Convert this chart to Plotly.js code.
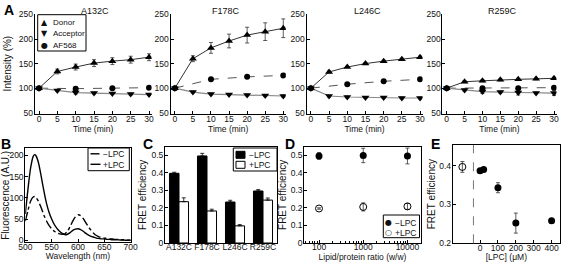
<!DOCTYPE html>
<html>
<head>
<meta charset="utf-8">
<script src="https://cdn.plot.ly/plotly-3.0.1.min.js"></script>
<style>html,body{margin:0;padding:0;background:#fff;}#chart{width:561px;height:262px;}</style>
</head>
<body>
<div id="chart"></div>
<script>
// ---------- DATA ----------
const mutants = ['A132C', 'F178C', 'L246C', 'R259C'];
const timeMin = [0, 5, 10, 15, 20, 25, 30];
const afTime = [0, 10, 20, 30];

// Panel A (per mutant, order as in `mutants`)
const donorValues = [
  [100, 134, 143, 151, 155, 158, 163],
  [100, 160, 182, 196, 208, 215, 222],
  [100, 133, 143, 150, 155, 159, 163],
  [100, 113, 115, 117, 118, 119, 120]
];
const donorErr = [
  [0, 5, 6, 7, 7, 7, 7],
  [0, 6, 11, 14, 16, 18, 19],
  [0, 2, 1, 2, 2, 2, 2],
  [0, 2, 2, 2, 2, 2, 2]
];
const acceptorValues = [
  [100, 95, 91, 90, 89, 88, 87],
  [100, 92, 88, 87, 86, 85, 84],
  [100, 84, 82, 81, 81, 80, 80],
  [100, 96, 93, 92, 91, 90, 90]
];
const acceptorErr = [
  [0, 2, 3, 2, 2, 2, 2],
  [0, 2, 2, 2, 2, 2, 2],
  [0, 2, 2, 2, 2, 2, 2],
  [0, 2, 4, 2, 5, 2, 5]
];
const af568Values = [
  [100, 99, 100, 101],
  [100, 118, 123, 126],
  [100, 108, 114, 118],
  [100, 100, 100, 101]
];
const af568Err = [
  [0, 3, 1, 1],
  [0, 1, 1, 1],
  [0, 1, 1, 1],
  [0, 2, 2, 1]
];

// Panel B (spectra)
const wavelength = [500,505,510,515,518,520,525,530,535,540,545,550,555,560,565,570,575,580,585,590,595,600,605,610,615,620,625,630,635,640,645,650,655,660,665,670,675,680,685,690,695,700];
const specMinusLPC = [45,70,92,102,103,101,92,77,60,46,35,27,21,17,15,14,15,21,32,45,55,60,58,51,41,31,23,16,11,8,6,5,4,3,3,2,2,1,1,1,0,0];
const specPlusLPC  = [62,120,170,198,202,200,183,152,118,88,66,50,37,28,21,16,13,14,18,23,26,27,25,21,16,12,9,7,5,4,3,3,2,2,1,1,1,0.5,0.5,0,0,0];

// Panel C (FRET efficiency per mutant)
const fretMinusLPC = [0.398, 0.497, 0.234, 0.297];
const fretMinusErr = [0.006, 0.015, 0.01, 0.008];
const fretPlusLPC = [0.236, 0.183, 0.098, 0.245];
const fretPlusErr = [0.022, 0.01, 0.007, 0.012];

// Panel D (lipid/protein ratio)
const lipidRatio = [100, 1000, 10000];
const dMinusLPC = [0.497, 0.500, 0.497];
const dMinusErr = [0.019, 0.041, 0.045];
const dPlusLPC = [0.197, 0.206, 0.209];
const dPlusErr = [0.004, 0.023, 0.017];

// Panel E ([LPC] titration)
const lpcConc = [0, 20, 100, 200, 400];
const eFret = [0.387, 0.390, 0.343, 0.251, 0.257];
const eFretErr = [0.004, 0.004, 0.013, 0.026, 0.004];
const eControlX = [-99];
const eControlFret = [0.397];
const eControlErr = [0.014];
const eDividerX = -37;

// ---------- LAYOUT HELPERS ----------
const W = 561, H = 262;
const FONT = 'Liberation Sans, Arial, Helvetica, sans-serif';
const TICK = 8.5, HTXT = 8.5, VTXT = 10;
const hd = (a, b) => [a / W, b / W];
const vd = (top, bottom) => [1 - bottom / H, 1 - top / H];
const px = p => p / W;
const py = p => 1 - p / H;

const baseAxis = {
  showline: true, linecolor: '#000', linewidth: 1,
  ticks: 'inside', ticklen: 3, tickwidth: 1, tickcolor: '#000',
  showgrid: false, zeroline: false, fixedrange: true, tickangle: 0,
  tickfont: {family: FONT, size: TICK, color: '#111'}
};
function xaxisOf(extra) { return Object.assign({}, baseAxis, {ticklabelstandoff: -3}, extra); }
function yaxisOf(extra) { return Object.assign({}, baseAxis, {ticklabelstandoff: -1}, extra); }
function xttl(text, standoff) { return {text: text, font: {family: FONT, size: HTXT, color: '#111'}, standoff: standoff}; }
function yttl(text, standoff) { return {text: text, font: {family: FONT, size: VTXT, color: '#111'}, standoff: standoff}; }

const traces = [];
const layout = {
  width: W, height: H,
  margin: {l: 0, r: 0, t: 0, b: 0},
  paper_bgcolor: '#fff', plot_bgcolor: 'rgba(0,0,0,0)',
  showlegend: false,
  font: {family: FONT, size: HTXT, color: '#111'},
  barmode: 'group', bargap: 0.32, bargroupgap: 0,
  shapes: [], annotations: []
};

// ---------- PANEL A ----------
const aDomains = [[34.6, 151.6], [170.5, 285.8], [306.5, 422.6], [442.4, 556.5]];
const aTitleX = [95, 226, 367, 502];
mutants.forEach((m, i) => {
  const s = i === 0 ? '' : String(i + 1);
  const xa = 'x' + s, ya = 'y' + s;
  layout['xaxis' + s] = xaxisOf({domain: hd(aDomains[i][0], aDomains[i][1]), anchor: ya,
    range: [-1.2, 30.7], tick0: 0, dtick: 5, title: xttl('Time (min)', 1)});
  layout['yaxis' + s] = yaxisOf({domain: vd(13.5, 113.7), anchor: xa,
    range: [48, 252], tickvals: [50, 100, 150, 200, 250],
    title: i === 0 ? yttl('Intensity (%)', 5) : undefined});
  traces.push({type: 'scatter', mode: 'lines', x: afTime, y: af568Values[i], xaxis: xa, yaxis: ya,
    line: {color: '#555', width: 1, dash: 'dash'}, hoverinfo: 'skip'});
  traces.push({type: 'scatter', mode: 'lines+markers', x: timeMin, y: acceptorValues[i], xaxis: xa, yaxis: ya,
    line: {color: '#888', width: 1.2}, marker: {symbol: 'triangle-down', size: 7, color: '#000'},
    error_y: {type: 'data', array: acceptorErr[i], color: '#333', thickness: 0.8, width: 2}});
  traces.push({type: 'scatter', mode: 'lines+markers', x: timeMin, y: donorValues[i], xaxis: xa, yaxis: ya,
    line: {color: '#333', width: 1}, marker: {symbol: 'triangle-up', size: 7, color: '#000'},
    error_y: {type: 'data', array: donorErr[i], color: '#333', thickness: 0.8, width: 2}});
  traces.push({type: 'scatter', mode: 'markers', x: afTime, y: af568Values[i], xaxis: xa, yaxis: ya,
    marker: {symbol: 'circle', size: 6, color: '#000'},
    error_y: {type: 'data', array: af568Err[i], color: '#333', thickness: 0.8, width: 2}});
  layout.annotations.push({text: m, x: px(aTitleX[i]), y: py(11), xref: 'paper', yref: 'paper',
    xanchor: 'center', yanchor: 'middle', showarrow: false, font: {family: FONT, size: 9, color: '#111'}});
});

// ---------- PANEL B ----------
layout.xaxis5 = xaxisOf({domain: hd(25.3, 130.7), anchor: 'y5', mirror: true, range: [500, 700],
  tickvals: [500, 550, 600, 650, 700], ticklabelstandoff: -4, title: xttl('Wavelength (nm)', 2)});
layout.yaxis5 = yaxisOf({domain: vd(148.3, 242.3), anchor: 'x5', mirror: true, range: [-5, 217],
  tickvals: [0, 50, 100, 150, 200], title: yttl('Fluorescence (A.U.)', 1)});
traces.push({type: 'scatter', mode: 'lines', x: wavelength, y: specMinusLPC, xaxis: 'x5', yaxis: 'y5',
  line: {color: '#000', width: 1.4, dash: 'dashdot', shape: 'spline', smoothing: 0.6}});
traces.push({type: 'scatter', mode: 'lines', x: wavelength, y: specPlusLPC, xaxis: 'x5', yaxis: 'y5',
  line: {color: '#000', width: 1.4, shape: 'spline', smoothing: 0.6}});

// ---------- PANEL C ----------
layout.xaxis6 = xaxisOf({domain: hd(165, 277), anchor: 'y6', mirror: true, type: 'category',
  range: [-0.5, 3.5], ticks: '', ticklabelstandoff: -4});
layout.yaxis6 = yaxisOf({domain: vd(146.7, 243), anchor: 'x6', mirror: true, range: [0, 0.55],
  tickvals: [0, 0.1, 0.2, 0.3, 0.4, 0.5], ticktext: ['0', '0.1', '0.2', '0.3', '0.4', '0.5'],
  title: yttl('FRET efficiency', 2)});
traces.push({type: 'bar', x: mutants, y: fretMinusLPC, xaxis: 'x6', yaxis: 'y6',
  marker: {color: '#000', line: {color: '#000', width: 1}},
  error_y: {type: 'data', symmetric: false, array: fretMinusErr, arrayminus: [0, 0, 0, 0], color: '#000', thickness: 0.8, width: 2}});
traces.push({type: 'bar', x: mutants, y: fretPlusLPC, xaxis: 'x6', yaxis: 'y6',
  marker: {color: '#fff', line: {color: '#000', width: 1}},
  error_y: {type: 'data', symmetric: false, array: fretPlusErr, arrayminus: [0, 0, 0, 0], color: '#000', thickness: 0.8, width: 2}});

// ---------- PANEL D ----------
layout.xaxis7 = xaxisOf({domain: hd(304.3, 420.7), anchor: 'y7', mirror: true, type: 'log',
  range: [1.667, 4.30], tickvals: [100, 1000, 10000], ticktext: ['100', '1000', '10000'],
  minor: {ticks: 'inside', ticklen: 2, tickcolor: '#000', dtick: 'D1'}, ticklabelstandoff: -4,
  title: xttl('Lipid/protein ratio (w/w)', 2)});
layout.yaxis7 = yaxisOf({domain: vd(146.7, 243), anchor: 'x7', mirror: true, range: [0, 0.55],
  tickvals: [0, 0.1, 0.2, 0.3, 0.4, 0.5], ticktext: ['0', '0.1', '0.2', '0.3', '0.4', '0.5'],
  title: yttl('FRET efficiency', 2)});
traces.push({type: 'scatter', mode: 'markers', x: lipidRatio, y: dMinusLPC, xaxis: 'x7', yaxis: 'y7',
  marker: {symbol: 'circle', size: 7, color: '#000'},
  error_y: {type: 'data', array: dMinusErr, color: '#333', thickness: 0.8, width: 2}});
traces.push({type: 'scatter', mode: 'markers', x: lipidRatio, y: dPlusLPC, xaxis: 'x7', yaxis: 'y7',
  marker: {symbol: 'circle-open', size: 7, color: '#000', line: {width: 1}},
  error_y: {type: 'data', array: dPlusErr, color: '#333', thickness: 0.8, width: 2}});

// ---------- PANEL E ----------
layout.xaxis8 = xaxisOf({domain: hd(452.7, 560), anchor: 'y8', mirror: true, range: [-153, 447],
  tickvals: [0, 100, 200, 300, 400], ticklabelstandoff: -4, title: xttl('[LPC] (μM)', 2)});
layout.yaxis8 = yaxisOf({domain: vd(145, 243.3), anchor: 'x8', mirror: true, range: [0.1985, 0.454],
  tickvals: [0.2, 0.3, 0.4], ticktext: ['0.2', '0.3', '0.4'], title: yttl('FRET efficiency', 1)});
traces.push({type: 'scatter', mode: 'markers', x: eControlX, y: eControlFret, xaxis: 'x8', yaxis: 'y8',
  marker: {symbol: 'circle-open', size: 7, color: '#000', line: {width: 1}},
  error_y: {type: 'data', array: eControlErr, color: '#333', thickness: 0.8, width: 2}});
traces.push({type: 'scatter', mode: 'markers', x: lpcConc, y: eFret, xaxis: 'x8', yaxis: 'y8',
  marker: {symbol: 'circle', size: 7, color: '#000'},
  error_y: {type: 'data', array: eFretErr, color: '#333', thickness: 0.8, width: 2}});
layout.shapes.push({type: 'line', xref: 'x8', yref: 'y8 domain', x0: eDividerX, x1: eDividerX, y0: 0, y1: 1,
  line: {color: '#777', width: 1, dash: 'dash'}});

// ---------- PANEL LETTERS ----------
[['A', 9, 10], ['B', 6, 143.5], ['C', 147.5, 143.5], ['D', 290, 143.5], ['E', 435, 143.5]].forEach(l => {
  layout.annotations.push({text: '<b>' + l[0] + '</b>', x: px(l[1]), y: py(l[2]), xref: 'paper', yref: 'paper',
    xanchor: 'center', yanchor: 'middle', showarrow: false, font: {family: FONT, size: 14, color: '#000'}});
});

// ---------- MANUAL LEGENDS ----------
function rect(x0, y0, x1, y1, fill) {
  layout.shapes.push({type: 'rect', xref: 'paper', yref: 'paper', x0: px(x0), x1: px(x1), y0: py(y1), y1: py(y0),
    line: {color: '#000', width: 1}, fillcolor: fill || 'rgba(0,0,0,0)'});
}
function hline(x0, x1, y, dash) {
  layout.shapes.push({type: 'line', xref: 'paper', yref: 'paper', x0: px(x0), x1: px(x1), y0: py(y), y1: py(y),
    line: {color: '#000', width: 1.4, dash: dash || 'solid'}});
}
function label(text, x, y, anchor, size, family) {
  layout.annotations.push({text: text, x: px(x), y: py(y), xref: 'paper', yref: 'paper',
    xanchor: anchor || 'left', yanchor: 'middle', showarrow: false,
    font: {family: family || FONT, size: size || HTXT, color: '#111'}});
}
const SYM = 'DejaVu Sans, sans-serif';
// A legend
rect(37.7, 14.7, 86, 51);
label('▲', 44.7, 22, 'center', 8, SYM); label('Donor', 51, 22, 'left', 8);
label('▼', 44.7, 33.7, 'center', 8, SYM); label('Acceptor', 51, 33.7, 'left', 8);
label('●', 44.7, 45.3, 'center', 8, SYM); label('AF568', 51, 45.3, 'left', 8);
// B legend
rect(88, 148, 129.3, 170.7);
hline(90.5, 100.5, 153.8, 'dashdot'); label('−LPC', 101, 154);
hline(90.5, 100.5, 164.3); label('+LPC', 101, 164.5);
// C legend
rect(233.3, 148, 277, 171);
rect(236, 151.3, 245, 158.3, '#000'); label('−LPC', 246.5, 155);
rect(236, 161.3, 245, 168.3, '#fff'); label('+LPC', 246.5, 165);
// D legend
rect(383.3, 215, 419.5, 237.7);
label('●', 388.3, 222.3, 'center', 8, SYM); label('−LPC', 393, 222.5);
label('○', 388.3, 232.3, 'center', 8, SYM); label('+LPC', 393, 232.5);

Plotly.newPlot('chart', traces, layout, {staticPlot: true, displayModeBar: false});
</script>
</body>
</html>
